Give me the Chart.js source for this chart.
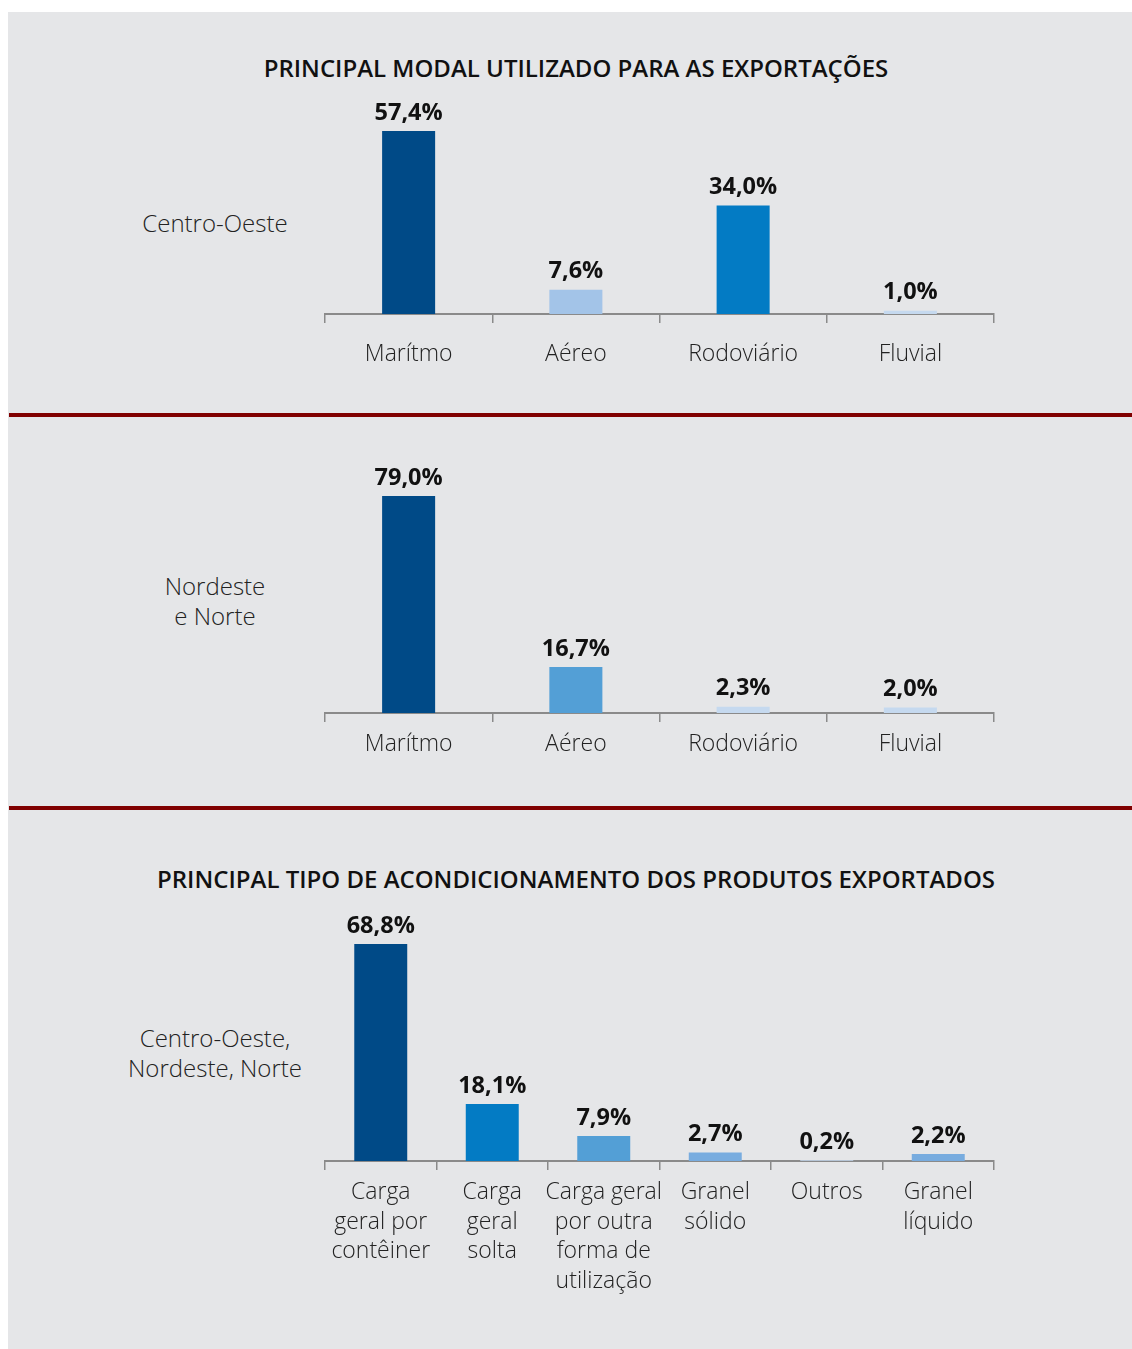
<!DOCTYPE html>
<html lang="pt">
<head>
<meta charset="UTF-8">
<title>Principal modal utilizado para as exportações</title>
<script src="https://cdn.jsdelivr.net/npm/chart.js"></script>
<style>
    body {
        margin: 0;
        background: #ffffff;
        font-family: "Open Sans", sans-serif;
    }
    #page {
        position: relative;
        width: 1132px;
        height: 1349px;
        overflow: hidden;
    }
    .panel {
        position: absolute;
        left: 8px;
        top: 12px;
        width: 1124px;
        height: 1337px;
        background: #e5e6e8;
    }
    .rule {
        position: absolute;
        left: 9px;
        width: 1123px;
        height: 4px;
        background: #800000;
    }
    .title {
        position: absolute;
        left: 0;
        width: 1152px;
        text-align: center;
        font-size: 24px;
        font-weight: 600;
        color: #111;
        line-height: 30px;
    }
    .side {
        position: absolute;
        left: 95px;
        width: 240px;
        text-align: center;
        font-size: 24px;
        font-weight: 300;
        color: #222;
        line-height: 30px;
    }
    canvas {
        position: absolute;
    }
</style>
</head>
<body>
<div id="page">
    <div class="panel"></div>
    <div class="rule" style="top:413px"></div>
    <div class="rule" style="top:806px"></div>

    <div class="title" style="top:53px">PRINCIPAL MODAL UTILIZADO PARA AS EXPORTAÇÕES</div>
    <div class="title" style="top:864px">PRINCIPAL TIPO DE ACONDICIONAMENTO DOS PRODUTOS EXPORTADOS</div>

    <div class="side" style="top:208px">Centro-Oeste</div>
    <div class="side" style="top:571px">Nordeste<br>e Norte</div>
    <div class="side" style="top:1023px">Centro-Oeste,<br>Nordeste, Norte</div>

    <canvas id="chartCO" width="720" height="300" style="left:300px;top:100px"></canvas>
    <canvas id="chartNN" width="720" height="330" style="left:300px;top:460px"></canvas>
    <canvas id="chartAc" width="720" height="420" style="left:300px;top:910px"></canvas>
</div>

<script>
// Modal - Centro-Oeste
const modalLabels = ['Marítmo', 'Aéreo', 'Rodoviário', 'Fluvial'];
const modalCentroOeste = [57.4, 7.6, 34.0, 1.0];
const modalCentroOesteColors = ['#004a87', '#a3c4e8', '#037bc4', '#c5d9ef'];

// Modal - Nordeste e Norte
const modalNordesteNorte = [79.0, 16.7, 2.3, 2.0];
const modalNordesteNorteColors = ['#004a87', '#539fd6', '#c5d9ef', '#c5d9ef'];

// Acondicionamento - Centro-Oeste, Nordeste, Norte
const acondLabels = [
    ['Carga', 'geral por', 'contêiner'],
    ['Carga', 'geral', 'solta'],
    ['Carga geral', 'por outra', 'forma de', 'utilização'],
    ['Granel', 'sólido'],
    ['Outros'],
    ['Granel', 'líquido']
];
const acondValues = [68.8, 18.1, 7.9, 2.7, 0.2, 2.2];
const acondColors = ['#004a87', '#037bc4', '#539fd6', '#78acdf', '#c5d9ef', '#78acdf'];

const FONT = '"Open Sans", sans-serif';
const AXIS_COLOR = '#8a8a8a';

// rótulos de valor acima das barras
const valueLabels = {
    id: 'valueLabels',
    afterDatasetsDraw(chart) {
        const ctx = chart.ctx;
        const meta = chart.getDatasetMeta(0);
        const values = chart.data.datasets[0].data;
        ctx.save();
        ctx.font = '700 23.5px ' + FONT;
        ctx.fillStyle = '#111';
        ctx.textAlign = 'center';
        ctx.textBaseline = 'middle';
        meta.data.forEach((bar, i) => {
            const txt = values[i].toFixed(1).replace('.', ',') + '%';
            ctx.fillText(txt, bar.x, bar.y - 18);
        });
        ctx.restore();
    }
};

function makeChart(id, labels, values, colors, opts) {
    return new Chart(document.getElementById(id), {
        type: 'bar',
        data: {
            labels: labels,
            datasets: [{
                data: values,
                backgroundColor: colors,
                borderWidth: 0,
                categoryPercentage: 1,
                barPercentage: opts.barPct
            }]
        },
        options: {
            responsive: false,
            animation: false,
            devicePixelRatio: 1,
            layout: { padding: { left: 25, right: 26, top: 0, bottom: 0 } },
            plugins: {
                legend: { display: false },
                tooltip: { enabled: false }
            },
            scales: {
                x: {
                    grid: {
                        offset: true,
                        drawOnChartArea: false,
                        drawTicks: true,
                        tickLength: 9,
                        color: AXIS_COLOR,
                        lineWidth: 1.5
                    },
                    border: { display: true, color: AXIS_COLOR, width: 2 },
                    ticks: {
                        color: '#222',
                        padding: opts.tickPad,
                        maxRotation: 0,
                        autoSkip: false,
                        font: { family: FONT, size: 23, weight: 300, lineHeight: opts.lineHeight }
                    },
                    afterFit: (scale) => { scale.height = opts.axisHeight; }
                },
                y: {
                    display: false,
                    min: 0,
                    max: opts.yMax
                }
            }
        },
        plugins: [valueLabels]
    });
}

makeChart('chartCO', modalLabels, modalCentroOeste, modalCentroOesteColors,
    { barPct: 0.317, tickPad: 18, lineHeight: 1.2, axisHeight: 86, yMax: 67.1 });
makeChart('chartNN', modalLabels, modalNordesteNorte, modalNordesteNorteColors,
    { barPct: 0.317, tickPad: 9, lineHeight: 1.2, axisHeight: 77, yMax: 92.1 });
makeChart('chartAc', acondLabels, acondValues, acondColors,
    { barPct: 0.475, tickPad: 8, lineHeight: 1.28, axisHeight: 169, yMax: 79.6 });
</script>
</body>
</html>
